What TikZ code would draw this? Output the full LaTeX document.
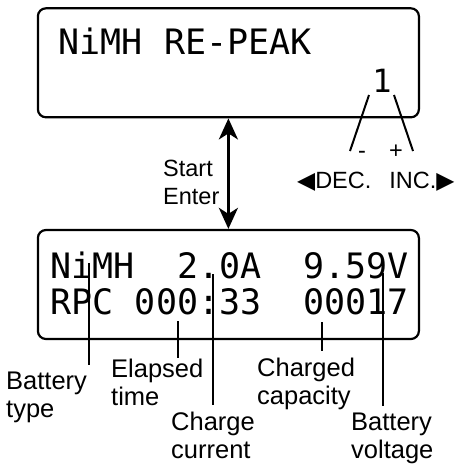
\documentclass[tikz,border=0pt]{standalone}
\usepackage{fontspec}
\setmainfont{Liberation Sans}
\newfontfamily\lcdfont{DejaVu Sans Mono}
\newfontfamily\symfont{DejaVu Sans}
\usetikzlibrary{arrows.meta, positioning}

\begin{document}
\begin{tikzpicture}[x=1pt, y=-1pt, >={Stealth[length=21pt, width=19pt, inset=6pt]},
    lcdbox/.style={draw, line width=2.2pt, rounded corners=8pt, minimum width=381pt, minimum height=109pt, inner sep=0pt},
    lcdtext/.style={anchor=base west, inner sep=0pt, font=\lcdfont\fontsize{35}{36}\selectfont},
    tag/.style={anchor=base west, inner sep=0pt, align=left, font=\fontsize{25.5}{28.5}\selectfont},
    keytag/.style={anchor=base west, inner sep=0pt, align=left, font=\fontsize{23.5}{28}\selectfont},
    keyline/.style={line width=2pt},
    tagline/.style={line width=2pt, shorten >=6pt}]

  \useasboundingbox (0,0) rectangle (456,464);

  % Display boxes
  \node[lcdbox] (peakbox) at (228.4,62.8) {};
  \node[lcdbox] (runbox) at (228.4,284.5) {};

  % Screen texts
  \node[lcdtext] (peakline) at (58.5,54) {NiMH RE-PEAK};
  \node[lcdtext, anchor=base, font=\lcdfont\fontsize{32}{34}\selectfont] (cycles) at (382,92) {1};
  \node[lcdtext] (runlineA) at (50.5,278) {NiMH~~2.0A~~9.59V};
  \node[lcdtext] (runlineB) at (50.5,314) {RPC~000:33~~00017};

  % Start / Enter (base = last line)
  \draw[<->, line width=3pt] (peakbox.south) -- (runbox.north);
  \node[keytag] (startkey) at (163,204) {Start\\Enter};

  % DEC / INC keys
  \coordinate (decTop) at (369,95);
  \coordinate (decEnd) at (350,151);
  \coordinate (incTop) at (394,95);
  \coordinate (incEnd) at (413,151);
  \draw[keyline] (decTop) -- (decEnd);
  \draw[keyline] (incTop) -- (incEnd);
  \node[keytag, anchor=base] (minus) at (362,158) {-};
  \node[keytag, anchor=base] (plus) at (396,158) {+};
  \node[keytag] (keyrow) at (297,188) {{\symfont ◀}DEC.\hspace{18pt}INC.{\symfont ▶}};

  % Field labels (base = last line)
  \node[tag] (typeTag) at (6,417.5) {Battery\\type};
  \node[tag] (timeTag) at (111,405.5) {Elapsed\\time};
  \node[tag] (currTag) at (171,458.5) {Charge\\current};
  \node[tag] (capTag) at (257,404.5) {Charged\\capacity};
  \node[tag] (voltTag) at (351,458.5) {Battery\\voltage};

  % Leader lines
  \coordinate (typePt) at (89,263);
  \coordinate (timePt) at (178,321);
  \coordinate (currPt) at (213,274);
  \coordinate (capPt) at (322,322);
  \coordinate (voltPt) at (383,273);
  \draw[tagline] (typePt) -- (typeTag.north -| typePt);
  \draw[tagline, shorten >=0pt] (timePt) -- (timeTag.north -| timePt);
  \draw[tagline] (currPt) -- (currTag.north -| currPt);
  \draw[tagline] (capPt) -- (capTag.north -| capPt);
  \draw[tagline] (voltPt) -- (voltTag.north -| voltPt);
\end{tikzpicture}
\end{document}
